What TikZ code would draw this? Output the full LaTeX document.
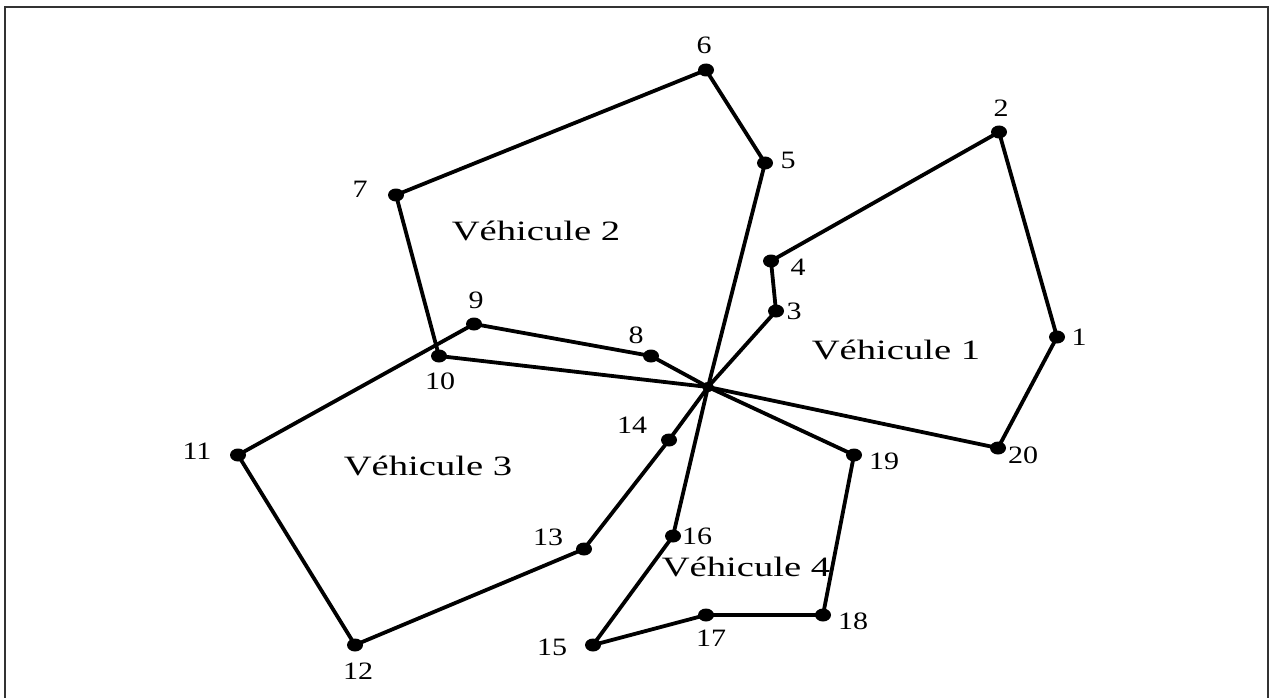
\documentclass[tikz,border=0pt]{standalone}
\usepackage{fontspec}
\setmainfont{Liberation Serif}
\usetikzlibrary{shapes.geometric}
\begin{document}
\begin{tikzpicture}[x=1pt,y=-1pt,
  pt/.style={ellipse,fill=black,inner sep=0pt,minimum width=16pt,minimum height=13pt},
  depot/.style={ellipse,fill=black,inner sep=0pt,minimum width=12pt,minimum height=10pt},
  lab/.style={inner sep=0pt,font=\fontsize{25}{25}\selectfont,xscale=1.2},
  veh/.style={inner sep=0pt,font=\fontsize{28}{28}\selectfont,xscale=1.38},
  route/.style={line width=3.8pt,black},
  frame/.style={line width=1.5pt,black!80}]
\useasboundingbox (0,0) rectangle (1269,698);
\draw[frame] (5,705) -- (5,7) -- (1268,7) -- (1268,705);

\node[depot] (D) at (708,387) {};
\node[pt] (n1) at (1057,337) {};
\node[pt] (n2) at (999,132) {};
\node[pt] (n3) at (776,311) {};
\node[pt] (n4) at (771,261) {};
\node[pt] (n5) at (765,163) {};
\node[pt] (n6) at (706,70) {};
\node[pt] (n7) at (396,195) {};
\node[pt] (n8) at (651,356) {};
\node[pt] (n9) at (474,324) {};
\node[pt] (n10) at (439,356) {};
\node[pt] (n11) at (238,455) {};
\node[pt] (n12) at (355,645) {};
\node[pt] (n13) at (584,549) {};
\node[pt] (n14) at (669,440) {};
\node[pt] (n15) at (593,645) {};
\node[pt] (n16) at (673,536) {};
\node[pt] (n17) at (706,615) {};
\node[pt] (n18) at (823,615) {};
\node[pt] (n19) at (854,455) {};
\node[pt] (n20) at (998,448) {};

% Vehicule 1
\draw[route] (D.center) -- (n3.center) -- (n4.center) -- (n2.center) -- (n1.center) -- (n20.center) -- (D.center);
% Vehicule 2
\draw[route] (D.center) -- (n5.center) -- (n6.center) -- (n7.center) -- (n10.center) -- (D.center);
% Vehicule 3
\draw[route] (D.center) -- (n8.center) -- (n9.center) -- (n11.center) -- (n12.center) -- (n13.center) -- (n14.center) -- (D.center);
% Vehicule 4
\draw[route] (D.center) -- (n16.center) -- (n15.center) -- (n17.center) -- (n18.center) -- (n19.center) -- (D.center);

\node[lab] (l1) at (1079,337) {1};
\node[lab] (l2) at (1001,108) {2};
\node[lab] (l3) at (794,311) {3};
\node[lab] (l4) at (798,267) {4};
\node[lab] (l5) at (788,160) {5};
\node[lab] (l6) at (704,45) {6};
\node[lab] (l7) at (360,189) {7};
\node[lab] (l8) at (636,335) {8};
\node[lab] (l9) at (476,300) {9};
\node[lab] (l10) at (440,381) {10};
\node[lab] (l11) at (197,451) {11};
\node[lab] (l12) at (358,671) {12};
\node[lab] (l13) at (548,537) {13};
\node[lab] (l14) at (632,425) {14};
\node[lab] (l15) at (552,647) {15};
\node[lab] (l16) at (697,536) {16};
\node[lab] (l17) at (711,638) {17};
\node[lab] (l18) at (853,621) {18};
\node[lab] (l19) at (884,461) {19};
\node[lab] (l20) at (1023,455) {20};

\node[veh] (v1) at (896,350) {Véhicule 1};
\node[veh] (v2) at (536,231) {Véhicule 2};
\node[veh] (v3) at (428,466) {Véhicule 3};
\node[veh] (v4) at (746,567) {Véhicule 4};
\end{tikzpicture}
\end{document}
